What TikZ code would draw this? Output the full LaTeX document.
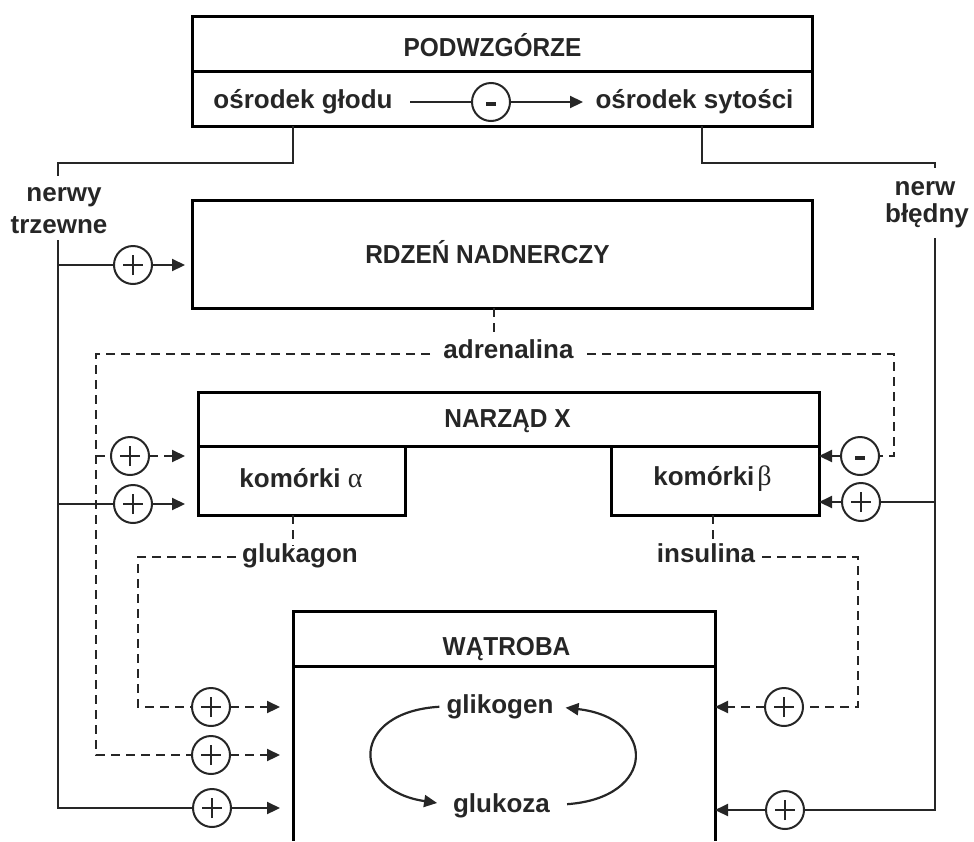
\documentclass[tikz,border=0pt]{standalone}
\usepackage{fontspec}
\setmainfont{Liberation Sans}
\newfontfamily\ttlfam{Liberation Sans}[FakeStretch=0.94]
\newfontfamily\grkfam{Liberation Serif}
\usetikzlibrary{arrows.meta}
\newcommand\lblfont{\fontsize{26pt}{31pt}\selectfont\bfseries}
\newcommand\ttlfont{\ttlfam\fontsize{26pt}{31pt}\selectfont\bfseries}
\begin{document}
\begin{tikzpicture}[x=1pt,y=-1pt,
  boxst/.style={draw, line width=3pt, inner sep=0pt, outer sep=0pt},
  lbl/.style={font=\lblfont, inner sep=0pt, anchor=base, text=black!85},
  ttl/.style={font=\ttlfont, inner sep=0pt, anchor=base, text=black!85},
  conn/.style={line width=2.2pt, draw=black!85},
  dconn/.style={conn, dash pattern=on 9pt off 6pt},
  arr/.style={-{Triangle[length=13pt,width=12pt]}},
  sgn/.style={circle, draw=black!85, line width=2pt, minimum size=38pt, inner sep=0pt, outer sep=0pt, fill=white},
  pluscirc/.style={sgn, path picture={\draw[line width=2pt] (path picture bounding box.center) ++(-10pt,0) -- ++(20pt,0) (path picture bounding box.center) ++(0,-10pt) -- ++(0,20pt);}},
  minuscirc/.style={sgn, path picture={\draw[line width=3.2pt] (path picture bounding box.center) ++(-5pt,-2pt) -- ++(10pt,0);}}
]
\useasboundingbox (0,0) rectangle (974,841);
\coordinate (bottomref) at (0,841);
% boxes
\node[boxst, minimum width=620pt, minimum height=55pt] (podtop) at (502,43.5) {};
\node[boxst, minimum width=620pt, minimum height=55pt] (podbot) at (502,98.5) {};
\node[boxst, minimum width=620pt, minimum height=108pt] (rdzen) at (502,254) {};
\node[boxst, minimum width=621pt, minimum height=54pt] (narzad) at (508.5,419) {};
\node[boxst, minimum width=207pt, minimum height=69pt] (kalpha) at (301.5,480.5) {};
\node[boxst, minimum width=208pt, minimum height=69pt] (kbeta) at (715,480.5) {};
\node[boxst, minimum width=422pt, minimum height=55pt] (wat) at (504,638.5) {};
\draw[line width=3pt] (wat.south west) -- (wat.south west |- bottomref);
\draw[line width=3pt] (wat.south east) -- (wat.south east |- bottomref);
% titles
\node[ttl] (tpod) at (492.5,56) {PODWZGÓRZE};
\node[ttl] (trdzen) at (487.5,263) {RDZEŃ NADNERCZY};
\node[ttl] (tnarzad) at (507.5,427) {NARZĄD X};
\node[ttl] (twat) at (506.5,655) {WĄTROBA};
% hypothalamus
\node[lbl] (tglod) at (303,108) {ośrodek głodu};
\node[lbl] (tsyt) at (694.5,108) {ośrodek sytości};
\node[minuscirc] (cm) at (491,102) {};
\coordinate (hg) at (410,102);
\coordinate (hs) at (583,102);
\draw[conn] (hg) -- (cm);
\draw[conn, arr] (cm) -- (hs);
% left nerves
\coordinate (L0) at (293,126);
\coordinate (L1) at (293,163);
\coordinate (L2) at (58,163);
\coordinate (L3) at (58,176);
\draw[conn] (L0) -- (L1) -- (L2) -- (L3);
\node[lbl] (tnerwy) at (64,201) {nerwy};
\node[lbl] (ttrzewne) at (59,233) {trzewne};
\coordinate (L4) at (58,240);
\coordinate (L5) at (58,808);
\coordinate (Lb1) at (58,265);
\coordinate (Lb2) at (58,504);
\node[pluscirc] (c1) at (133,265) {};
\node[pluscirc] (c2) at (133,504) {};
\node[pluscirc] (c3) at (212,808) {};
\draw[conn] (L4) -- (L5) -- (c3);
\draw[conn] (Lb1) -- (c1);
\draw[conn] (Lb2) -- (c2);
\draw[conn, arr, shorten >=7pt] (c1) -- (c1 -| rdzen.west);
\draw[conn, arr, shorten >=13pt] (c2) -- (c2 -| kalpha.west);
\draw[conn, arr, shorten >=13pt] (c3) -- (c3 -| wat.west);
% right nerve
\coordinate (R0) at (702,126);
\coordinate (R1) at (702,163);
\coordinate (R2) at (935,163);
\coordinate (R3) at (935,168);
\draw[conn] (R0) -- (R1) -- (R2) -- (R3);
\node[lbl] (tnerw) at (925,195) {nerw};
\node[lbl] (tbledny) at (927,222) {błędny};
\coordinate (R4) at (935,238);
\coordinate (R5) at (935,810);
\coordinate (Rb1) at (935,502);
\node[pluscirc] (c8) at (861,502) {};
\node[pluscirc] (c7) at (785,810) {};
\draw[conn] (R4) -- (R5) -- (c7);
\draw[conn] (Rb1) -- (c8);
\draw[conn, arr] (c8) -- (c8 -| kbeta.east);
\draw[conn, arr] (c7) -- (c7 -| wat.east);
% adrenalina
\node[lbl] (tadr) at (508.5,358) {adrenalina};
\coordinate (A0) at (494,308);
\coordinate (A1) at (494,337);
\draw[dconn] (A0) -- (A1);
\coordinate (Al) at (430,354);
\coordinate (A2) at (96,354);
\coordinate (A3) at (96,456);
\coordinate (A4) at (96,755);
\coordinate (Ar) at (587,354);
\coordinate (A5) at (894,354);
\coordinate (A6) at (894,456);
\node[pluscirc] (c4) at (130,456) {};
\node[pluscirc] (c5) at (211,755) {};
\node[minuscirc] (c6) at (860,456) {};
\draw[dconn] (Al) -- (A2) -- (A4) -- (c5);
\draw[dconn] (A3) -- (c4);
\draw[dconn, arr, shorten >=13pt] (c4) -- (c4 -| kalpha.west);
\draw[dconn, arr, shorten >=13pt] (c5) -- (c5 -| wat.west);
\draw[dconn] (Ar) -- (A5) -- (A6) -- (c6);
\draw[dconn, arr] (c6) -- (c6 -| kbeta.east);
% cells
\node[lbl] (talpha) at (301,487) {komórki {\grkfam\mdseries\fontsize{28pt}{31pt}\selectfont α}};
\node[lbl] (tbeta) at (712.5,485) {komórki\kern3pt{\grkfam\mdseries\fontsize{28pt}{31pt}\selectfont β}};
% glukagon
\coordinate (G0) at (293,515);
\coordinate (G1) at (293,546);
\draw[dconn] (G0) -- (G1);
\node[lbl] (tgluk) at (300,562) {glukagon};
\coordinate (Gl) at (236,557);
\coordinate (G2) at (138,557);
\coordinate (G3) at (138,707);
\node[pluscirc] (c9) at (211,707) {};
\draw[dconn] (Gl) -- (G2) -- (G3) -- (c9);
\draw[dconn, arr, shorten >=13pt] (c9) -- (c9 -| wat.west);
% insulina
\coordinate (I0) at (713,515);
\coordinate (I1) at (713,546);
\draw[dconn] (I0) -- (I1);
\node[lbl] (tins) at (706,562) {insulina};
\coordinate (Ir) at (762,557);
\coordinate (I2) at (858,557);
\coordinate (I3) at (858,707);
\node[pluscirc] (c10) at (784,707) {};
\draw[dconn] (Ir) -- (I2) -- (I3) -- (c10);
\draw[dconn, arr] (c10) -- (c10 -| wat.east);
% liver cycle
\node[lbl] (tglik) at (500,713) {glikogen};
\node[lbl] (tglu) at (501.5,812) {glukoza};
\draw[conn, arr, shorten <=7pt, shorten >=16pt] (tglik.west) .. controls (350,712) and (350,790) .. (tglu.west);
\draw[conn, arr, shorten <=17pt, shorten >=12pt] (tglu.east) .. controls (657,798) and (657,718) .. (tglik.east);
\end{tikzpicture}
\end{document}
